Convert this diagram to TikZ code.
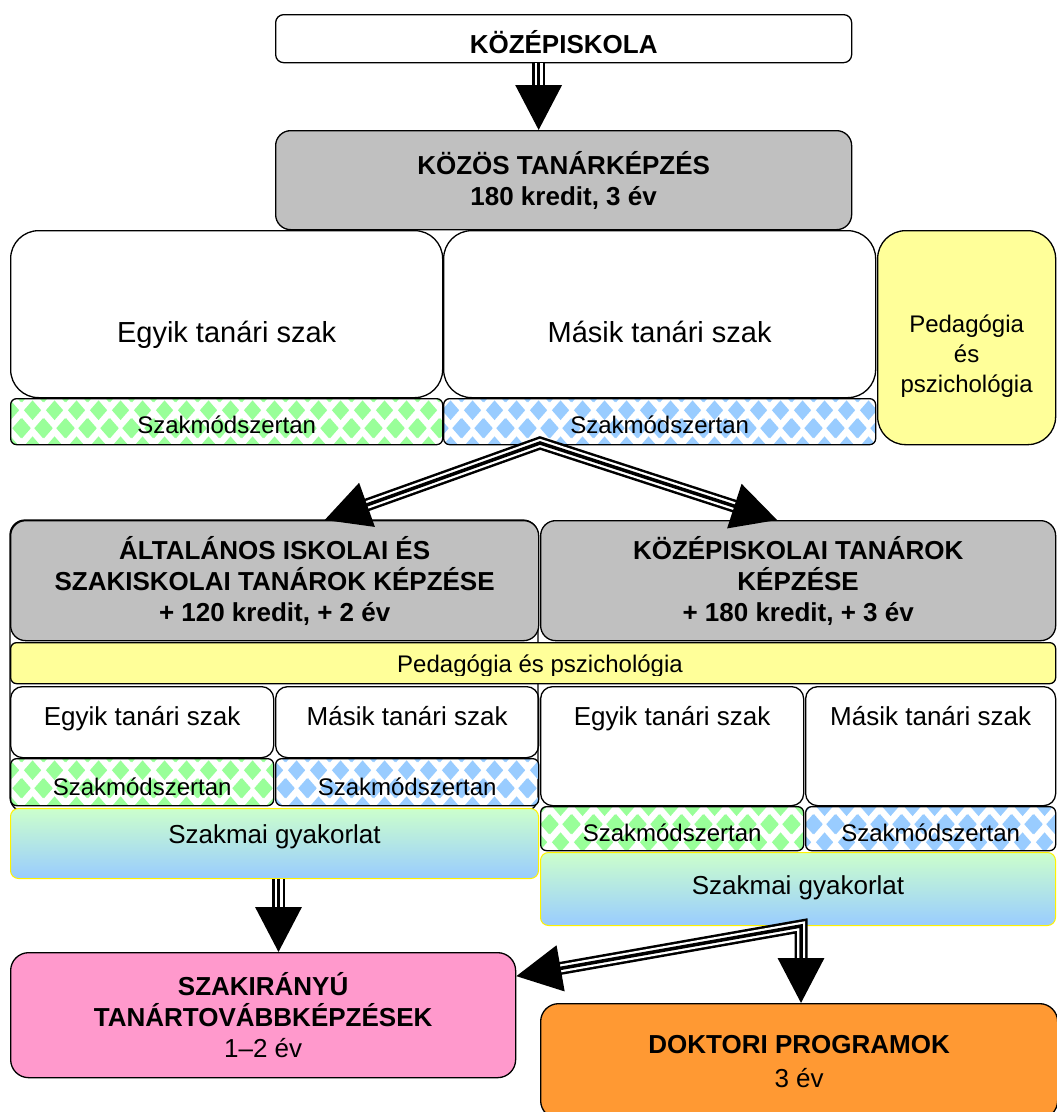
\documentclass[tikz,border=0pt]{standalone}
\usepackage{fontspec}
\setmainfont{Liberation Sans}
\usetikzlibrary{arrows.meta,patterns}

\definecolor{boxgray}{HTML}{C0C0C0}
\definecolor{paleyellow}{HTML}{FFFF99}
\definecolor{mint}{HTML}{99FF99}
\definecolor{sky}{HTML}{99CCFF}
\definecolor{palegreen}{HTML}{CCFFCC}
\definecolor{rose}{HTML}{FF99CC}
\definecolor{tangerine}{HTML}{FF9933}

% one diamond, centre (#1,#2)
\newcommand{\diamondat}[2]{%
  \pgfpathmoveto{\pgfpoint{#1pt}{#2pt-10pt}}\pgfpathlineto{\pgfpoint{#1pt+9pt}{#2pt}}%
  \pgfpathlineto{\pgfpoint{#1pt}{#2pt+10pt}}\pgfpathlineto{\pgfpoint{#1pt-9pt}{#2pt}}\pgfpathclose}
\pgfdeclarepatternformonly{diamonds}{\pgfpointorigin}{\pgfpoint{22pt}{36pt}}{\pgfpoint{22pt}{36pt}}{%
  \diamondat{11}{18}\diamondat{0}{0}\diamondat{22}{0}\diamondat{0}{36}\diamondat{22}{36}%
  \pgfusepath{fill}}

\newcommand{\fsHead}{\fontsize{26}{31}\selectfont\bfseries}
\newcommand{\fsMajor}{\fontsize{29}{35}\selectfont}
\newcommand{\fsText}{\fontsize{26}{31}\selectfont}
\newcommand{\fsSmall}{\fontsize{24}{30}\selectfont}

\tikzset{
  box/.style = {draw, line width = 1.3pt, inner sep = 0pt, anchor = north west},
  greenmeth/.style = {box, pattern = diamonds, pattern color = mint, rounded corners = 6pt, font = \fsSmall},
  bluemeth/.style = {box, pattern = diamonds, pattern color = sky, rounded corners = 6pt, font = \fsSmall},
  practice/.style = {box, draw = yellow, line width = 1pt, top color = palegreen, bottom color = sky, rounded corners = 8pt, font = \fsText},
  pipeout/.style = {line width = 13pt, line join = miter, shorten >= 42pt},
  pipegap/.style = {pipeout, white, line width = 8pt},
  pipecore/.style = {line width = 3.5pt, arrows = {-{Triangle[length = 45pt, width = 46pt]}}},
  pipeboth/.style = {line width = 3.5pt, arrows = {{Triangle[length = 45pt, width = 46pt]}-{Triangle[length = 45pt, width = 46pt]}}}
}

\begin{document}
\begin{tikzpicture}[x = 1pt, y = -1pt]
\useasboundingbox (0, 0) rectangle (1057, 1112);

% frame of the left column
\draw [line width = 1.3pt, rounded corners = 15pt] (10, 520) rectangle (538, 812);

\node [box, minimum width = 576pt, text height = 39pt, text depth = 9pt, rounded corners = 8pt, font = \fsHead] (school) at (275, 14) {KÖZÉPISKOLA};
\node [box, fill = boxgray, minimum width = 576pt, minimum height = 99pt, rounded corners = 15pt, align = center, font = \fsHead] (common) at (275, 130) {KÖZÖS TANÁRKÉPZÉS\\180 kredit, 3 év};

\node [box, minimum width = 432pt, text height = 112pt, text depth = 55pt, rounded corners = 28pt, font = \fsMajor] (majorA) at (10, 230) {Egyik tanári szak};
\node [box, minimum width = 432pt, text height = 112pt, text depth = 55pt, rounded corners = 28pt, font = \fsMajor] (majorB) at (443, 230) {Másik tanári szak};
\node [box, fill = paleyellow, minimum width = 178pt, minimum height = 214pt, rounded corners = 28pt] (pedR) at (877, 230) {};
\node [align = center, font = \fsSmall] (pedRtext) at ([yshift = -18pt]pedR.center) {Pedagógia\\és\\pszichológia};
\node [greenmeth, minimum width = 432pt, text height = 35pt, text depth = 11pt] (methA) at (10, 398) {Szakmódszertan};
\node [bluemeth, minimum width = 432pt, text height = 35pt, text depth = 11pt] (methB) at (443, 398) {Szakmódszertan};

\node [box, fill = boxgray, minimum width = 528pt, minimum height = 120pt, rounded corners = 15pt, align = center, font = \fsHead] (general) at (10, 520) {ÁLTALÁNOS ISKOLAI ÉS\\SZAKISKOLAI TANÁROK KÉPZÉSE\\+ 120 kredit, + 2 év};
\node [box, fill = boxgray, minimum width = 515pt, minimum height = 120pt, rounded corners = 15pt, align = center, font = \fsHead] (secondary) at (540, 520) {KÖZÉPISKOLAI TANÁROK\\KÉPZÉSE\\+ 180 kredit, + 3 év};

\node [box, fill = paleyellow, minimum width = 1045pt, minimum height = 41pt, rounded corners = 6pt] (pedStrip) at (10, 642) {};
\begin{scope}
\clip (pedStrip.north west) rectangle (pedStrip.east |- 0, 675);
\node [font = \fsSmall] (pedStripText) at (540, 666) {Pedagógia és pszichológia};
\end{scope}

% left column
\node [box, minimum width = 263pt, text height = 39pt, text depth = 32pt, rounded corners = 12pt, font = \fsText] (majorA2) at (10, 686) {Egyik tanári szak};
\node [box, minimum width = 263pt, text height = 39pt, text depth = 32pt, rounded corners = 12pt, font = \fsText] (majorB2) at (275, 686) {Másik tanári szak};
\node [greenmeth, minimum width = 263pt, text height = 37pt, text depth = 10pt] (methA2) at (10, 758) {Szakmódszertan};
\node [bluemeth, minimum width = 263pt, text height = 37pt, text depth = 10pt] (methB2) at (275, 758) {Szakmódszertan};
\node [practice, minimum width = 528pt, text height = 35pt, text depth = 35pt] (practA) at (10, 808) {Szakmai gyakorlat};

% right column
\node [box, minimum width = 263pt, text height = 39pt, text depth = 80pt, rounded corners = 12pt, font = \fsText] (majorA3) at (540, 686) {Egyik tanári szak};
\node [box, minimum width = 250pt, text height = 39pt, text depth = 80pt, rounded corners = 12pt, font = \fsText] (majorB3) at (805, 686) {Másik tanári szak};
\node [greenmeth, minimum width = 263pt, text height = 35pt, text depth = 9pt] (methA3) at (540, 806) {Szakmódszertan};
\node [bluemeth, minimum width = 250pt, text height = 35pt, text depth = 9pt] (methB3) at (805, 806) {Szakmódszertan};
\node [practice, minimum width = 515pt, text height = 42pt, text depth = 31pt] (practB) at (540, 852) {Szakmai gyakorlat};

\node [box, fill = rose, minimum width = 505pt, minimum height = 125pt, rounded corners = 18pt, align = center, font = \fsHead] (further) at (10, 952) {SZAKIRÁNYÚ\\TANÁRTOVÁBBKÉPZÉSEK\\{\mdseries 1--2 év}};
\node [box, fill = tangerine, minimum width = 517pt, minimum height = 115pt, rounded corners = 18pt, align = center, font = \fsHead] (doctor) at (540, 1003) {DOKTORI PROGRAMOK\\[3pt]{\mdseries 3 év}};

% arrows
\coordinate (forkTop) at (540, 443);
\coordinate (forkLow) at ([xshift = 3pt]practB.south);

\draw [pipeout] ([xshift = -25pt]school.south) -- ([xshift = -25pt]common.north);
\draw [pipegap] ([xshift = -25pt]school.south) -- ([xshift = -25pt]common.north);
\draw [pipecore] ([xshift = -25pt]school.south) -- ([xshift = -25pt]common.north);

\draw [pipeout, shorten <= 42pt] ([xshift = 50pt]general.north) -- (forkTop) -- ([xshift = -21pt]secondary.north);
\draw [pipegap, shorten <= 42pt] ([xshift = 50pt]general.north) -- (forkTop) -- ([xshift = -21pt]secondary.north);
\draw [pipeboth] ([xshift = 50pt]general.north) -- (forkTop) -- ([xshift = -21pt]secondary.north);

\draw [pipeout] ([xshift = 4pt]practA.south) -- ([xshift = 4pt]practA.south |- further.north);
\draw [pipegap] ([xshift = 4pt]practA.south) -- ([xshift = 4pt]practA.south |- further.north);
\draw [pipecore] ([xshift = 4pt]practA.south) -- ([xshift = 4pt]practA.south |- further.north);

\draw [pipeout, shorten <= 42pt] ([yshift = 39pt]further.east) -- (forkLow) -- (forkLow |- doctor.north);
\draw [pipegap, shorten <= 42pt] ([yshift = 39pt]further.east) -- (forkLow) -- (forkLow |- doctor.north);
\draw [pipeboth] ([yshift = 39pt]further.east) -- (forkLow) -- (forkLow |- doctor.north);

\end{tikzpicture}
\end{document}
